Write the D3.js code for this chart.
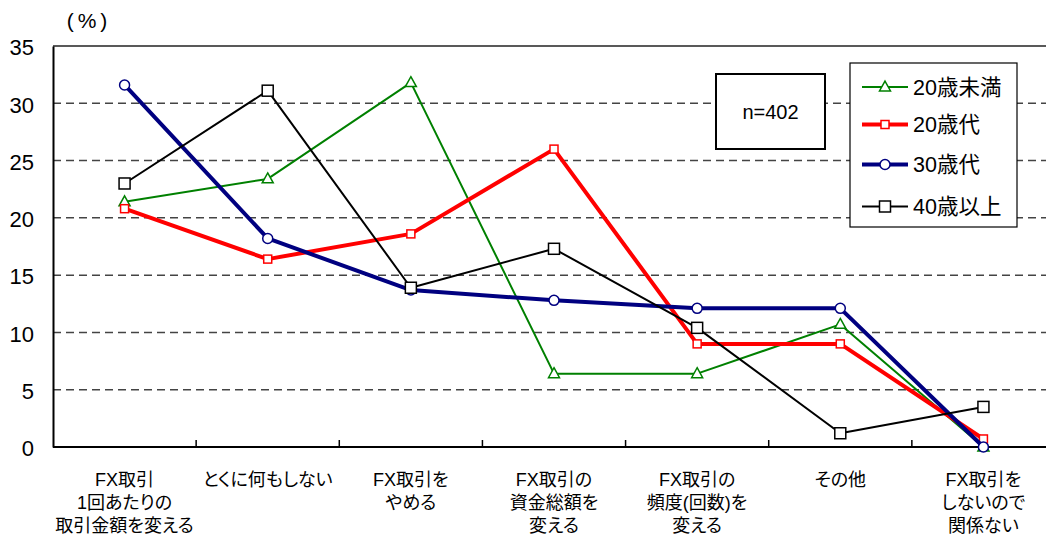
<!DOCTYPE html>
<html>
<head>
<meta charset="utf-8">
<script src="https://cdn.jsdelivr.net/npm/d3@7"></script>
<style>
  html, body { margin: 0; padding: 0; background: #fff; }
  svg { display: block; }
  text { font-family: "Liberation Sans", Arial, "Noto Sans CJK JP", sans-serif; fill: #000; font-feature-settings: "palt"; }
</style>
</head>
<body>
<svg id="chart" width="1046" height="536"></svg>
<script>
// Categories (multi-line labels)
const categories = [
  ["FX取引", "1回あたりの", "取引金額を変える"],
  ["とくに何もしない"],
  ["FX取引を", "やめる"],
  ["FX取引の", "資金総額を", "変える"],
  ["FX取引の", "頻度(回数)を", "変える"],
  ["その他"],
  ["FX取引を", "しないので", "関係ない"]
];

// Series values (%)
const under20 = [21.4, 23.4, 31.8, 6.4, 6.4, 10.7, 0.0];
const age20s  = [20.8, 16.4, 18.6, 26.0, 9.0, 9.0, 0.7];
const age30s  = [31.6, 18.2, 13.7, 12.8, 12.1, 12.1, 0.0];
const over40  = [23.0, 31.1, 13.9, 17.3, 10.4, 1.2, 3.5];

const seriesNames = ["20歳未満", "20歳代", "30歳代", "40歳以上"];
const yTicks = [0, 5, 10, 15, 20, 25, 30, 35];
const sampleLabel = "n=402";
const unitLabel = "(%)";

const series = [
  { name: seriesNames[0], values: under20, color: "#008000", width: 2,   marker: "triangle", size: 11 },
  { name: seriesNames[1], values: age20s,  color: "#ff0000", width: 4,   marker: "square",   size: 8  },
  { name: seriesNames[2], values: age30s,  color: "#000080", width: 4,   marker: "circle",   size: 10 },
  { name: seriesNames[3], values: over40,  color: "#000000", width: 2,   marker: "square",   size: 11 }
];

const svg = d3.select("#chart");
const plotLeft = 53, plotRight = 1055, plotTop = 46, plotBottom = 447;

const x = d3.scaleBand().domain(d3.range(categories.length)).range([plotLeft, plotRight]).padding(0);
const y = d3.scaleLinear().domain([0, 35]).range([plotBottom, plotTop]);
const cx = i => x(i) + x.bandwidth() / 2;

// Horizontal grid lines
svg.append("g").selectAll("line")
  .data(yTicks.filter(t => t > 0))
  .join("line")
  .attr("x1", plotLeft).attr("x2", plotRight)
  .attr("y1", d => y(d)).attr("y2", d => y(d))
  .attr("stroke", d => d === 35 ? "#222" : "#444")
  .attr("stroke-width", 1.5)
  .attr("stroke-dasharray", d => d === 35 ? null : "8,5");

// Y axis
const yAxis = d3.axisLeft(y).tickValues(yTicks).tickSize(0).tickPadding(19);
const gy = svg.append("g").attr("transform", `translate(${plotLeft},0)`).call(yAxis);
gy.attr("font-family", null).attr("font-size", null);
gy.select(".domain").attr("stroke", "#000").attr("stroke-width", 2);
gy.selectAll("text")
  .style("font-size", "22px")
  .attr("dy", "0.4em");

// X axis with boundary ticks pointing up
svg.append("line")
  .attr("x1", plotLeft).attr("x2", plotRight)
  .attr("y1", plotBottom).attr("y2", plotBottom)
  .attr("stroke", "#000").attr("stroke-width", 2);
svg.append("g").selectAll("line")
  .data(d3.range(1, categories.length))
  .join("line")
  .attr("x1", d => x(d)).attr("x2", d => x(d))
  .attr("y1", plotBottom).attr("y2", plotBottom - 7)
  .attr("stroke", "#000").attr("stroke-width", 1.5);

// Category labels
const labels = svg.append("g").selectAll("text")
  .data(categories)
  .join("text")
  .attr("text-anchor", "middle")
  .style("font-size", "18px");
labels.each(function(lines, i) {
  const t = d3.select(this);
  lines.forEach((ln, j) => {
    t.append("tspan")
      .attr("x", cx(i))
      .attr("y", 486 + j * 23)
      .text(ln);
  });
});

// Unit label
svg.append("text")
  .attr("x", 89).attr("y", 28)
  .attr("text-anchor", "middle")
  .style("font-size", "21px")
  .style("letter-spacing", "4px")
  .text(unitLabel);

// Marker drawing helper
function drawMarker(g, type, size, color, px, py) {
  const sw = 1.5;
  if (type === "circle") {
    g.append("circle").attr("cx", px).attr("cy", py).attr("r", size / 2)
      .attr("fill", "#fff").attr("stroke", color).attr("stroke-width", sw);
  } else if (type === "square") {
    g.append("rect").attr("x", px - size / 2).attr("y", py - size / 2)
      .attr("width", size).attr("height", size)
      .attr("fill", "#fff").attr("stroke", color).attr("stroke-width", sw);
  } else {
    const h = size * 0.9, w = size;
    g.append("path")
      .attr("d", `M${px},${py - h * 0.6} L${px + w / 2},${py + h * 0.4} L${px - w / 2},${py + h * 0.4} Z`)
      .attr("fill", "#fff").attr("stroke", color).attr("stroke-width", sw);
  }
}

// Series lines and markers
const line = d3.line()
  .x((d, i) => cx(i))
  .y(d => y(d));

series.forEach(s => {
  const g = svg.append("g");
  g.append("path")
    .attr("d", line(s.values))
    .attr("fill", "none")
    .attr("stroke", s.color)
    .attr("stroke-width", s.width)
    .attr("stroke-linejoin", "round");
  s.values.forEach((v, i) => {
    drawMarker(g, s.marker, s.size, s.color, cx(i), y(v));
  });
});

// Sample size box
svg.append("rect")
  .attr("x", 716).attr("y", 74).attr("width", 109).attr("height", 75)
  .attr("fill", "#fff").attr("stroke", "#000").attr("stroke-width", 2);
svg.append("text")
  .attr("x", 770.5).attr("y", 119)
  .attr("text-anchor", "middle")
  .style("font-size", "20px")
  .text(sampleLabel);

// Legend
const legend = svg.append("g");
legend.append("rect")
  .attr("x", 850).attr("y", 63).attr("width", 167).attr("height", 164)
  .attr("fill", "#fff").attr("stroke", "#000").attr("stroke-width", 1.2);
const legendY = [87, 124.5, 164.5, 206.5];
series.forEach((s, i) => {
  const ly = legendY[i];
  legend.append("line")
    .attr("x1", 862).attr("x2", 908)
    .attr("y1", ly).attr("y2", ly)
    .attr("stroke", s.color).attr("stroke-width", s.width);
  drawMarker(legend, s.marker, s.size, s.color, 885, ly);
  legend.append("text")
    .attr("x", 913).attr("y", ly + 7.5)
    .style("font-size", "21.5px")
    .text(s.name);
});
</script>
</body>
</html>
